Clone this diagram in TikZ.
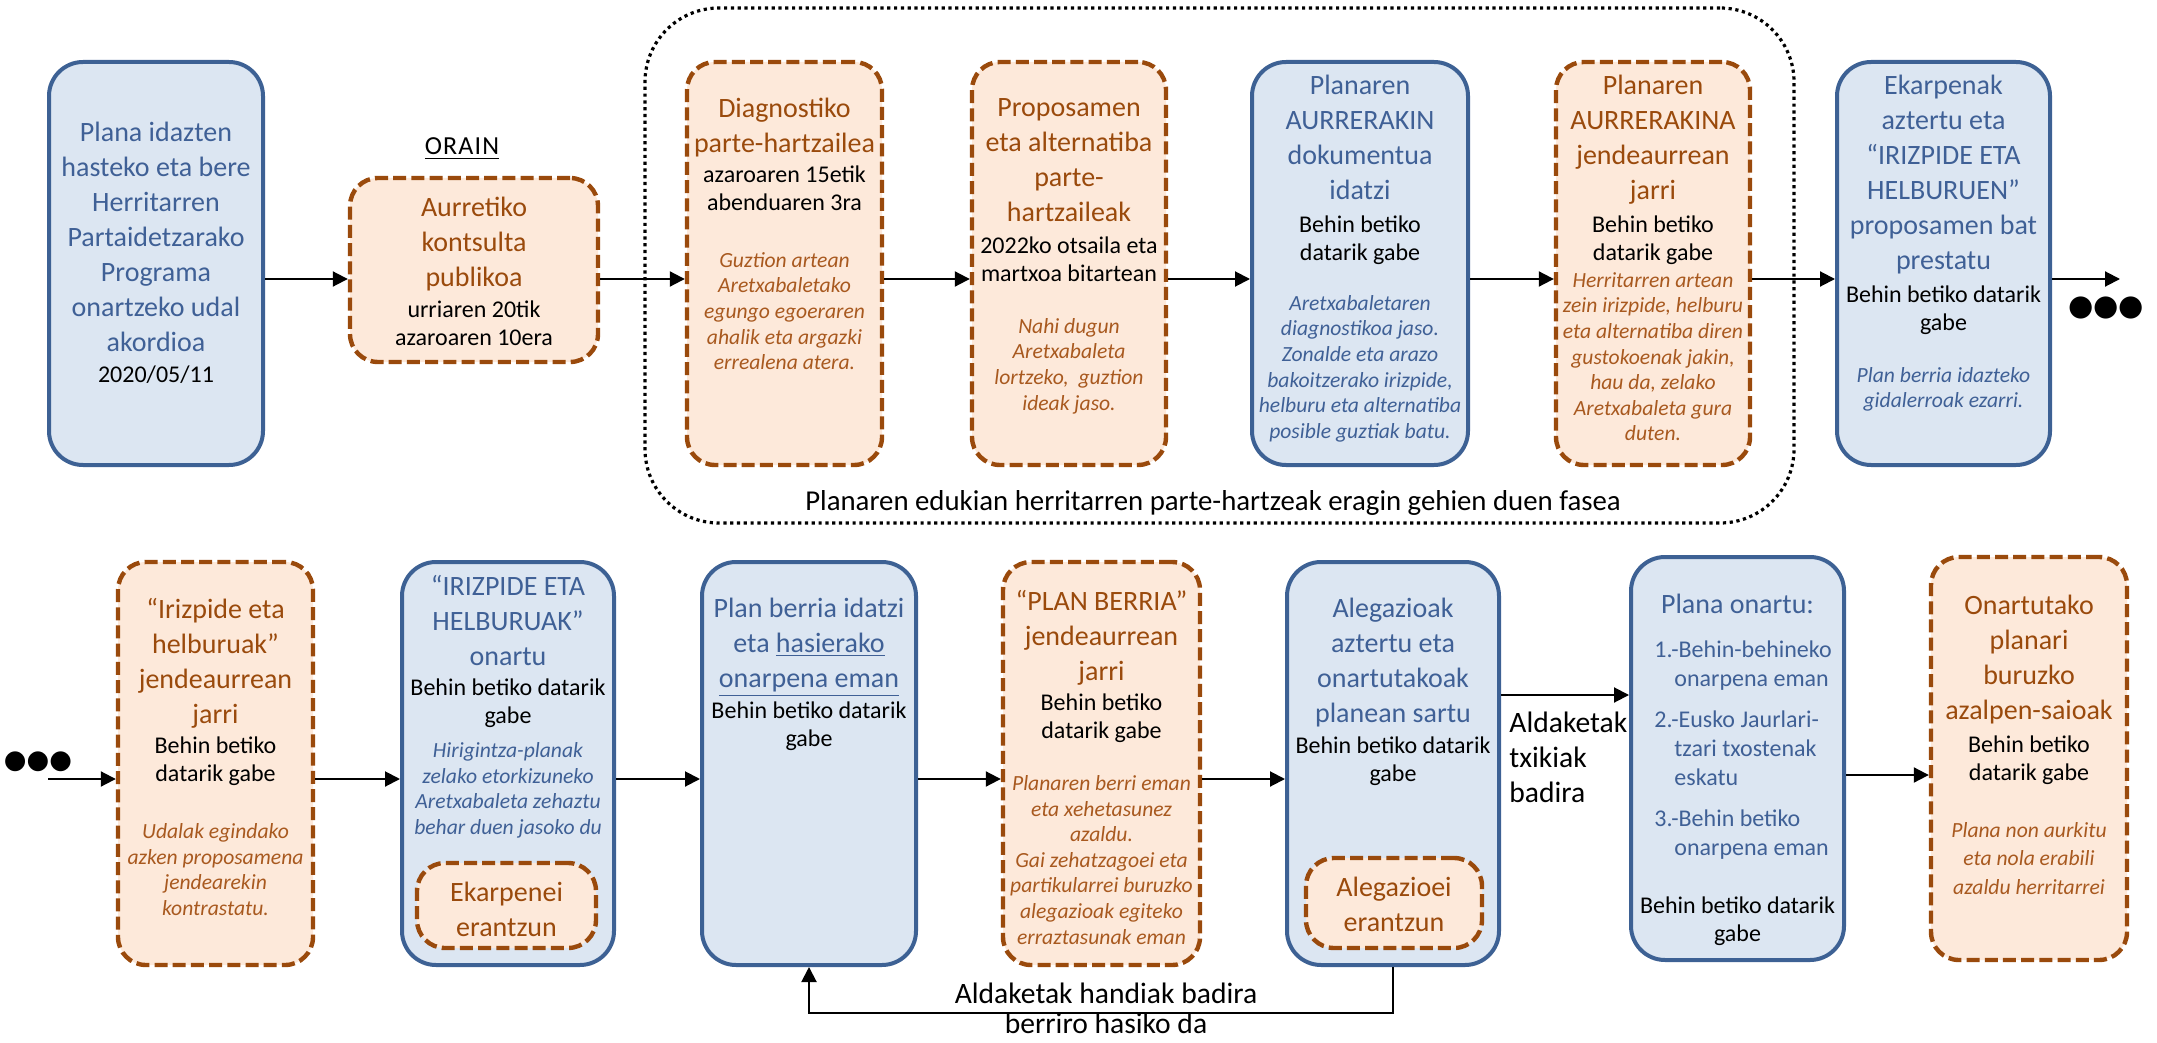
\documentclass[tikz,border=0pt]{standalone}
\usepackage{fontspec}
\setmainfont{Carlito}
\newfontfamily\dejavu{DejaVu Sans}
\usetikzlibrary{arrows.meta,fit}
\definecolor{bborder}{HTML}{3D6194}
\definecolor{bfill}{HTML}{DCE6F2}
\definecolor{btext}{HTML}{3F6096}
\definecolor{oborder}{HTML}{9A4A0C}
\definecolor{ofill}{HTML}{FDE9DA}
\definecolor{otext}{HTML}{9A4A0C}
\definecolor{oital}{HTML}{A8591F}
\tikzset{
  bluebox/.style={draw=bborder, fill=bfill, line width=2pt, rounded corners=17pt, inner sep=0pt},
  orbox/.style={draw=oborder, fill=ofill, line width=2.2pt, rounded corners=14pt, dash pattern=on 6.5pt off 2.6pt, inner sep=0pt},
  dotbox/.style={draw=black, line width=1.6pt, dash pattern=on 1.6pt off 1.8pt, rounded corners=37pt, inner sep=0pt},
  ttl/.style={font=\fontsize{14}{17.5}\selectfont, align=center, inner sep=0pt, anchor=north},
  sub/.style={font=\fontsize{12}{14}\selectfont, align=center, inner sep=0pt, anchor=north, text=black},
  itl/.style={font=\fontsize{10.8}{12.8}\selectfont\itshape, align=center, inner sep=0pt, anchor=north},
  lbl/.style={font=\fontsize{14.8}{17.5}\selectfont, inner sep=0pt, text=black},
  dotsym/.style={font=\dejavu\fontsize{14.5}{14.5}\selectfont, inner sep=0pt, text=black},
  arr/.style={-{Triangle[length=7.5pt,width=7.5pt]}, line width=1pt, draw=black},
}
\begin{document}
\begin{tikzpicture}[x=0.5pt,y=-0.5pt]
\useasboundingbox (0,0) rectangle (2157,1043);

% phase frame
\node[dotbox, fit={(645,8) (1794,523)}] (phase) {};
\node[lbl, font=\fontsize{14.4}{17}\selectfont, anchor=base] (phaselbl) at (1213,510) {Planaren edukian herritarren parte-hartzeak eragin gehien duen fasea};

% Row 1
\node[bluebox, fit={(49,62) (263,465)}] (A) {};
\node[ttl, text=btext] (At) at (156,122) {Plana idazten\\hasteko eta bere\\Herritarren\\Partaidetzarako\\Programa\\onartzeko udal\\akordioa};
\node[sub, anchor=base] (Ad) at (156,382) {2020/05/11};

\node[lbl, font=\fontsize{13}{15}\selectfont, anchor=base] (orain) at (462,155) {\underline{O\kern0.6pt R\kern0.6pt A\kern0.6pt I\kern0.6pt N}};
\node[orbox, fit={(350,178) (598,362)}] (B) {};
\node[ttl, text=otext] (Bt) at (474,197) {Aurretiko\\kontsulta\\publikoa};
\node[sub] (Bd) at (474,300) {urriaren 20tik\\azaroaren 10era};

\node[orbox, fit={(687,62) (882,465)}] (C) {};
\node[ttl, text=otext] (Ct) at (784.5,98) {Diagnostiko\\parte-hartzailea};
\node[sub] (Cd) at (784.5,165) {azaroaren 15etik\\abenduaren 3ra};
\node[itl, text=oital] (Ci) at (784.5,252) {Guztion artean\\Aretxabaletako\\egungo egoeraren\\ahalik eta argazki\\errealena atera.};

\node[orbox, fit={(972,62) (1166,465)}] (D) {};
\node[ttl, text=otext] (Dt) at (1069,98) {Proposamen\\eta alternatiba\\parte-\\hartzaileak};
\node[sub] (Dd) at (1069,236) {2022ko otsaila eta\\martxoa bitartean};
\node[itl, text=oital] (Di) at (1069,318) {Nahi dugun\\Aretxabaleta\\lortzeko,~ guztion\\ideak jaso.};

\node[bluebox, fit={(1252,62) (1468,465)}] (E) {};
\node[ttl, text=btext] (Et) at (1360,75) {Planaren\\AURRERAKIN\\dokumentua\\idatzi};
\node[sub] (Ed) at (1360,215) {Behin betiko\\datarik gabe};
\node[itl, text=btext] (Ei) at (1360,295) {Aretxabaletaren\\diagnostikoa jaso.\\Zonalde eta arazo\\bakoitzerako irizpide,\\helburu eta alternatiba\\posible guztiak batu.};

\node[orbox, fit={(1556,62) (1750,465)}] (F) {};
\node[ttl, text=otext] (Ft) at (1653,75) {Planaren\\AURRERAKINA\\jendeaurrean\\jarri};
\node[sub] (Fd) at (1653,215) {Behin betiko\\datarik gabe};
\node[itl, text=oital] (Fi) at (1653,272) {Herritarren artean\\zein irizpide, helburu\\eta alternatiba diren\\gustokoenak jakin,\\hau da, zelako\\Aretxabaleta gura\\duten.};

\node[bluebox, fit={(1837,62) (2050,465)}] (G) {};
\node[ttl, text=btext] (Gt) at (1943.5,75) {Ekarpenak\\aztertu eta\\“IRIZPIDE ETA\\HELBURUEN”\\proposamen bat\\prestatu};
\node[sub] (Gd) at (1943.5,285) {Behin betiko datarik\\gabe};
\node[itl, text=btext] (Gi) at (1943.5,367) {Plan berria idazteko\\gidalerroak ezarri.};

\node[dotsym] (dotsR) at (2106,308) {●●●};
\coordinate (endG) at (2120,279);

% Row 1 arrows
\coordinate (r1) at (0,279);
\draw[arr] (A.east |- r1) -- (B.west |- r1);
\draw[arr] (B.east |- r1) -- (C.west |- r1);
\draw[arr] (C.east |- r1) -- (D.west |- r1);
\draw[arr] (D.east |- r1) -- (E.west |- r1);
\draw[arr] (E.east |- r1) -- (F.west |- r1);
\draw[arr] (F.east |- r1) -- (G.west |- r1);
\draw[arr] (G.east |- r1) -- (endG);

% Row 2
\node[dotsym, font=\dejavu\fontsize{13}{13}\selectfont] (dotsL) at (38,762) {●●●};
\coordinate (startH) at (48,779);

\node[orbox, fit={(118,562) (313,965)}] (H) {};
\node[ttl, text=otext] (Ht) at (215.5,598) {“Irizpide eta\\helburuak”\\jendeaurrean\\jarri};
\node[sub] (Hd) at (215.5,736) {Behin betiko\\datarik gabe};
\node[itl, text=oital] (Hi) at (215.5,823) {Udalak egindako\\azken proposamena\\jendearekin\\kontrastatu.};

\node[bluebox, fit={(402,562) (614,965)}] (I) {};
\node[ttl, text=btext] (It) at (508,575) {“IRIZPIDE ETA\\HELBURUAK”\\onartu};
\node[sub] (Id) at (508,678) {Behin betiko datarik\\gabe};
\node[itl, text=btext] (Ii) at (508,742) {Hirigintza-planak\\zelako etorkizuneko\\Aretxabaleta zehaztu\\behar duen jasoko du};
\node[orbox, fit={(417,863) (596,948)}] (Ib) {};
\node[ttl, text=otext] (Ibt) at (506.5,882) {Ekarpenei\\erantzun};

\node[bluebox, fit={(702,562) (916,965)}] (J) {};
\node[ttl, text=btext] (Jt) at (809,598) {Plan berria idatzi\\eta \underline{hasierako}\\\underline{onarpena eman}};
\node[sub] (Jd) at (809,701) {Behin betiko datarik\\gabe};

\node[orbox, fit={(1003,562) (1200,965)}] (K) {};
\node[ttl, text=otext] (Kt) at (1101.5,590) {“PLAN BERRIA”\\jendeaurrean\\jarri};
\node[sub] (Kd) at (1101.5,693) {Behin betiko\\datarik gabe};
\node[itl, text=oital] (Ki) at (1101.5,775) {Planaren berri eman\\eta xehetasunez\\azaldu.\\Gai zehatzagoei eta\\partikularrei buruzko\\alegazioak egiteko\\erraztasunak eman};

\node[bluebox, fit={(1287,562) (1499,965)}] (L) {};
\node[ttl, text=btext] (Lt) at (1393,598) {Alegazioak\\aztertu eta\\onartutakoak\\planean sartu};
\node[sub] (Ld) at (1393,736) {Behin betiko datarik\\gabe};
\node[orbox, fit={(1306,858) (1482,948)}] (Lb) {};
\node[ttl, text=otext] (Lbt) at (1394,877) {Alegazioei\\erantzun};

\node[lbl, align=left, anchor=north west] (small) at (1509,712) {Aldaketak\\txikiak\\badira};

\node[bluebox, fit={(1631,557) (1844,960)}] (M) {};
\node[ttl, text=btext, anchor=base] (Mt) at (1737.5,613) {Plana onartu:};
\node[inner sep=0pt, anchor=north west, align=left, text=btext, font=\fontsize{12}{14.5}\selectfont] (Ml) at (1654,640) {1.-Behin-behineko\\\hspace*{10pt}onarpena eman\\[6pt]2.-Eusko Jaurlari-\\\hspace*{10pt}tzari txostenak\\\hspace*{10pt}eskatu\\[6pt]3.-Behin betiko\\\hspace*{10pt}onarpena eman};
\node[sub] (Md) at (1737.5,896) {Behin betiko datarik\\gabe};

\node[orbox, fit={(1931,557) (2127,960)}] (N) {};
\node[ttl, text=otext] (Nt) at (2029,595) {Onartutako\\planari\\buruzko\\azalpen-saioak};
\node[sub] (Nd) at (2029,735) {Behin betiko\\datarik gabe};
\node[itl, text=oital, font=\fontsize{10.8}{14.2}\selectfont\itshape] (Ni) at (2029,822) {Plana non aurkitu\\eta nola erabili\\azaldu herritarrei};

% Row 2 arrows
\coordinate (r2) at (0,779);
\coordinate (r3) at (0,695);
\coordinate (r4) at (0,775);
\coordinate (fb) at (0,1013);
\draw[arr] (startH) -- (H.west |- startH);
\draw[arr] (H.east |- r2) -- (I.west |- r2);
\draw[arr] (I.east |- r2) -- (J.west |- r2);
\draw[arr] (J.east |- r2) -- (K.west |- r2);
\draw[arr] (K.east |- r2) -- (L.west |- r2);
\draw[arr] (L.east |- r3) -- (M.west |- r3);
\draw[arr] (M.east |- r4) -- (N.west |- r4);
\draw[arr] (L.south) -- (L.south |- fb) -| (J.south);
\node[lbl, align=center, anchor=north, font=\fontsize{14.8}{15}\selectfont] (fblbl) at (1106,983) {Aldaketak handiak badira\\berriro hasiko da};
\end{tikzpicture}
\end{document}
